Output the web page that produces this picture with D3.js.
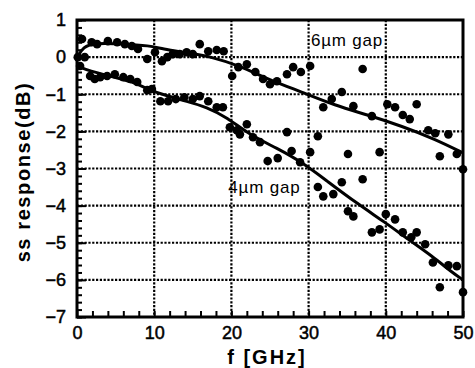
<!DOCTYPE html>
<html>
<head>
<meta charset="utf-8">
<script src="https://cdn.jsdelivr.net/npm/d3@7"></script>
<style>
    html, body { margin: 0; padding: 0; background: #fff; }
    svg { display: block; font-family: "Liberation Sans", Arial, sans-serif; }
</style>
</head>
<body>
<div id="chart"></div>
<script>
// ===========================
// ss response vs frequency — 6um gap / 4um gap, measured points + fit
// ===========================

// measured points, 6um gap  [f GHz, dB]
const gap6Points = [
    [0.1, 0.0], [1.0, 0.0], [0.65, 0.49], [1.9, 0.40], [2.6, 0.35], [4.0, 0.43],
    [5.2, 0.40], [6.2, 0.35], [7.1, 0.30], [7.9, 0.22], [9.1, -0.05], [10.1, 0.13],
    [11.0, -0.11], [11.7, 0.0], [12.4, 0.08], [13.3, 0.08], [14.2, 0.13], [15.0, 0.08],
    [15.9, 0.35], [17.0, 0.16], [18.1, 0.19], [19.0, 0.16], [20.1, -0.51], [20.9, -0.27],
    [22.0, -0.19], [23.1, -0.40], [24.1, -0.59], [25.0, -0.73], [25.9, -0.65], [27.2, -0.46],
    [28.0, -0.27], [29.0, -0.40], [30.2, -0.24], [31.9, -1.35], [33.0, -1.13], [34.3, -0.94],
    [35.8, -1.32], [37.0, -0.32], [38.2, -1.59], [40.2, -1.27], [41.2, -1.35], [42.2, -1.56],
    [43.1, -1.67], [44.0, -1.27], [45.5, -1.97], [46.4, -2.05], [48.1, -2.08], [47.0, -2.67],
    [49.2, -2.61], [50.0, -3.02], [31.2, -2.13], [35.1, -2.61], [39.2, -2.56]
];

// measured points, 4um gap  [f GHz, dB]
const gap4Points = [
    [0.4, -0.24], [1.7, -0.51], [2.3, -0.59], [3.0, -0.54], [3.9, -0.51], [4.9, -0.46],
    [6.0, -0.54], [6.9, -0.59], [7.8, -0.67], [9.1, -0.89], [9.7, -0.86], [10.8, -1.19],
    [11.8, -1.19], [12.8, -1.13], [13.9, -1.08], [15.0, -1.13], [15.9, -1.05], [17.0, -1.19],
    [18.1, -1.35], [18.9, -1.35], [19.8, -1.89], [20.7, -1.97], [21.1, -2.08], [22.0, -1.81],
    [22.8, -2.16], [23.7, -2.29], [24.7, -2.80], [26.0, -2.72], [27.2, -2.02], [27.8, -2.53],
    [28.9, -2.83], [30.2, -2.56], [31.2, -3.50], [31.9, -3.75], [33.2, -3.69], [34.3, -3.37],
    [35.1, -4.15], [35.8, -4.29], [37.0, -3.29], [38.2, -4.72], [39.2, -4.64], [40.0, -4.23],
    [41.2, -4.37], [42.2, -4.72], [43.3, -4.85], [44.0, -4.72], [45.1, -5.04], [46.1, -5.53],
    [48.1, -5.61], [49.2, -5.63], [47.0, -6.20], [50.0, -6.33]
];

// fitted curves
const gap6Fit = [
    [0, -0.02], [0.8, 0.28], [2.3, 0.38], [5.6, 0.36], [9.5, 0.31], [11.0, 0.22],
    [14.2, 0.12], [17.6, 0.0], [21.1, -0.24], [24.7, -0.59], [29.1, -0.94], [33.4, -1.30],
    [37.7, -1.56], [42.1, -1.86], [46.4, -2.21], [50.0, -2.58]
];
const gap4Fit = [
    [0, -0.24], [1.7, -0.38], [4.3, -0.51], [7.3, -0.67], [9.1, -0.86], [11.7, -1.05],
    [14.2, -1.19], [16.8, -1.35], [19.4, -1.62], [22.4, -2.10], [25.9, -2.45], [29.3, -2.85],
    [32.4, -3.34], [36.4, -3.96], [39.9, -4.45], [42.9, -4.91], [46.0, -5.36], [48.6, -5.80],
    [50.0, -6.0]
];

const xTicks = [0, 10, 20, 30, 40, 50];
const yTicks = [1, 0, -1, -2, -3, -4, -5, -6, -7];
const xGrid = [10, 20, 30, 40];
const yGrid = [0, -1, -2, -3, -4, -5, -6];

const seriesLabels = [
    { text: '6\u00b5m gap', at: [30.3, 0.3] },
    { text: '4\u00b5m gap', at: [19.6, -3.67] }
];

// ── Layout ────────────────────────────────────────────────────────────────
const W = 475, H = 368;
const plot = { left: 77, right: 463, top: 20, bottom: 317 };

const svg = d3.select('#chart').append('svg')
    .attr('width', W)
    .attr('height', H);

const x = d3.scaleLinear().domain([0, 50]).range([plot.left, plot.right]);
const y = d3.scaleLinear().domain([-7, 1]).range([plot.bottom, plot.top]);

// ── Grid (dotted) ─────────────────────────────────────────────────────────
const grid = svg.append('g')
    .attr('stroke', '#000')
    .attr('stroke-width', 2.2)
    .attr('stroke-dasharray', '2.2,1.6');

grid.selectAll('.gx').data(xGrid).join('line')
    .attr('x1', d => x(d)).attr('x2', d => x(d))
    .attr('y1', plot.top).attr('y2', plot.bottom);

grid.selectAll('.gy').data(yGrid).join('line')
    .attr('x1', plot.left).attr('x2', plot.right)
    .attr('y1', d => y(d)).attr('y2', d => y(d));

// ── Axes (ticks pointing inward) ──────────────────────────────────────────
const yMinor = d3.range(-7, 1.001, 0.2);
const xMinor = d3.range(0, 50.001, 2);

svg.append('g')
    .attr('transform', `translate(${plot.left},0)`)
    .call(d3.axisRight(y).tickValues(yMinor).tickSize(5).tickFormat(''))
    .call(g => g.select('.domain').remove())
    .selectAll('line').attr('stroke-width', 2);

svg.append('g')
    .attr('transform', `translate(${plot.left},0)`)
    .call(d3.axisRight(y).tickValues(yTicks).tickSize(9).tickFormat(''))
    .call(g => g.select('.domain').remove())
    .selectAll('line').attr('stroke-width', 2);

svg.append('g')
    .attr('transform', `translate(0,${plot.bottom})`)
    .call(d3.axisTop(x).tickValues(xMinor).tickSize(6).tickFormat(''))
    .call(g => g.select('.domain').remove())
    .selectAll('line').attr('stroke-width', 2);

// tick labels (slightly heavy, like the scanned original)
svg.append('g')
    .attr('transform', `translate(${plot.left},0)`)
    .call(d3.axisLeft(y).tickValues(yTicks).tickSize(0).tickPadding(11))
    .call(g => g.select('.domain').remove())
    .selectAll('text')
    .style('font-family', '"Liberation Sans", Arial, sans-serif')
    .style('font-size', '18px')
    .attr('fill', '#000')
    .attr('stroke', '#000')
    .attr('stroke-width', 0.5);

svg.append('g')
    .attr('transform', `translate(0,${plot.bottom})`)
    .call(d3.axisBottom(x).tickValues(xTicks).tickSize(0).tickPadding(9))
    .call(g => g.select('.domain').remove())
    .selectAll('text')
    .style('font-family', '"Liberation Sans", Arial, sans-serif')
    .style('font-size', '18px')
    .attr('fill', '#000')
    .attr('stroke', '#000')
    .attr('stroke-width', 0.5);

// frame
svg.append('rect')
    .attr('x', plot.left).attr('y', plot.top)
    .attr('width', plot.right - plot.left)
    .attr('height', plot.bottom - plot.top)
    .attr('fill', 'none')
    .attr('stroke', '#000')
    .attr('stroke-width', 3);

// axis titles
svg.append('text')
    .attr('transform', 'translate(30,172) rotate(-90)')
    .attr('text-anchor', 'middle')
    .style('font-size', '20px')
    .style('font-weight', 'bold')
    .style('letter-spacing', '1.6px')
    .text('ss response(dB)');

svg.append('text')
    .attr('x', 267)
    .attr('y', 364)
    .attr('text-anchor', 'middle')
    .style('font-size', '20px')
    .style('font-weight', 'bold')
    .style('letter-spacing', '2px')
    .text('f [GHz]');

// ── Fit curves ────────────────────────────────────────────────────────────
const line = d3.line()
    .x(d => x(d[0]))
    .y(d => y(d[1]))
    .curve(d3.curveBasis);

[gap6Fit, gap4Fit].forEach(fit => {
    svg.append('path')
        .datum(fit)
        .attr('d', line)
        .attr('fill', 'none')
        .attr('stroke', '#000')
        .attr('stroke-width', 3);
});

// ── Points ────────────────────────────────────────────────────────────────
[gap6Points, gap4Points].forEach(pts => {
    svg.append('g').selectAll('circle')
        .data(pts)
        .join('circle')
        .attr('cx', d => x(d[0]))
        .attr('cy', d => y(d[1]))
        .attr('r', 4.3)
        .attr('fill', '#000');
});

// series labels
svg.selectAll('.series-label')
    .data(seriesLabels)
    .join('text')
    .attr('class', 'series-label')
    .attr('x', d => x(d.at[0]))
    .attr('y', d => y(d.at[1]))
    .style('font-size', '17px')
    .style('letter-spacing', '0.8px')
    .text(d => d.text);
</script>
</body>
</html>
